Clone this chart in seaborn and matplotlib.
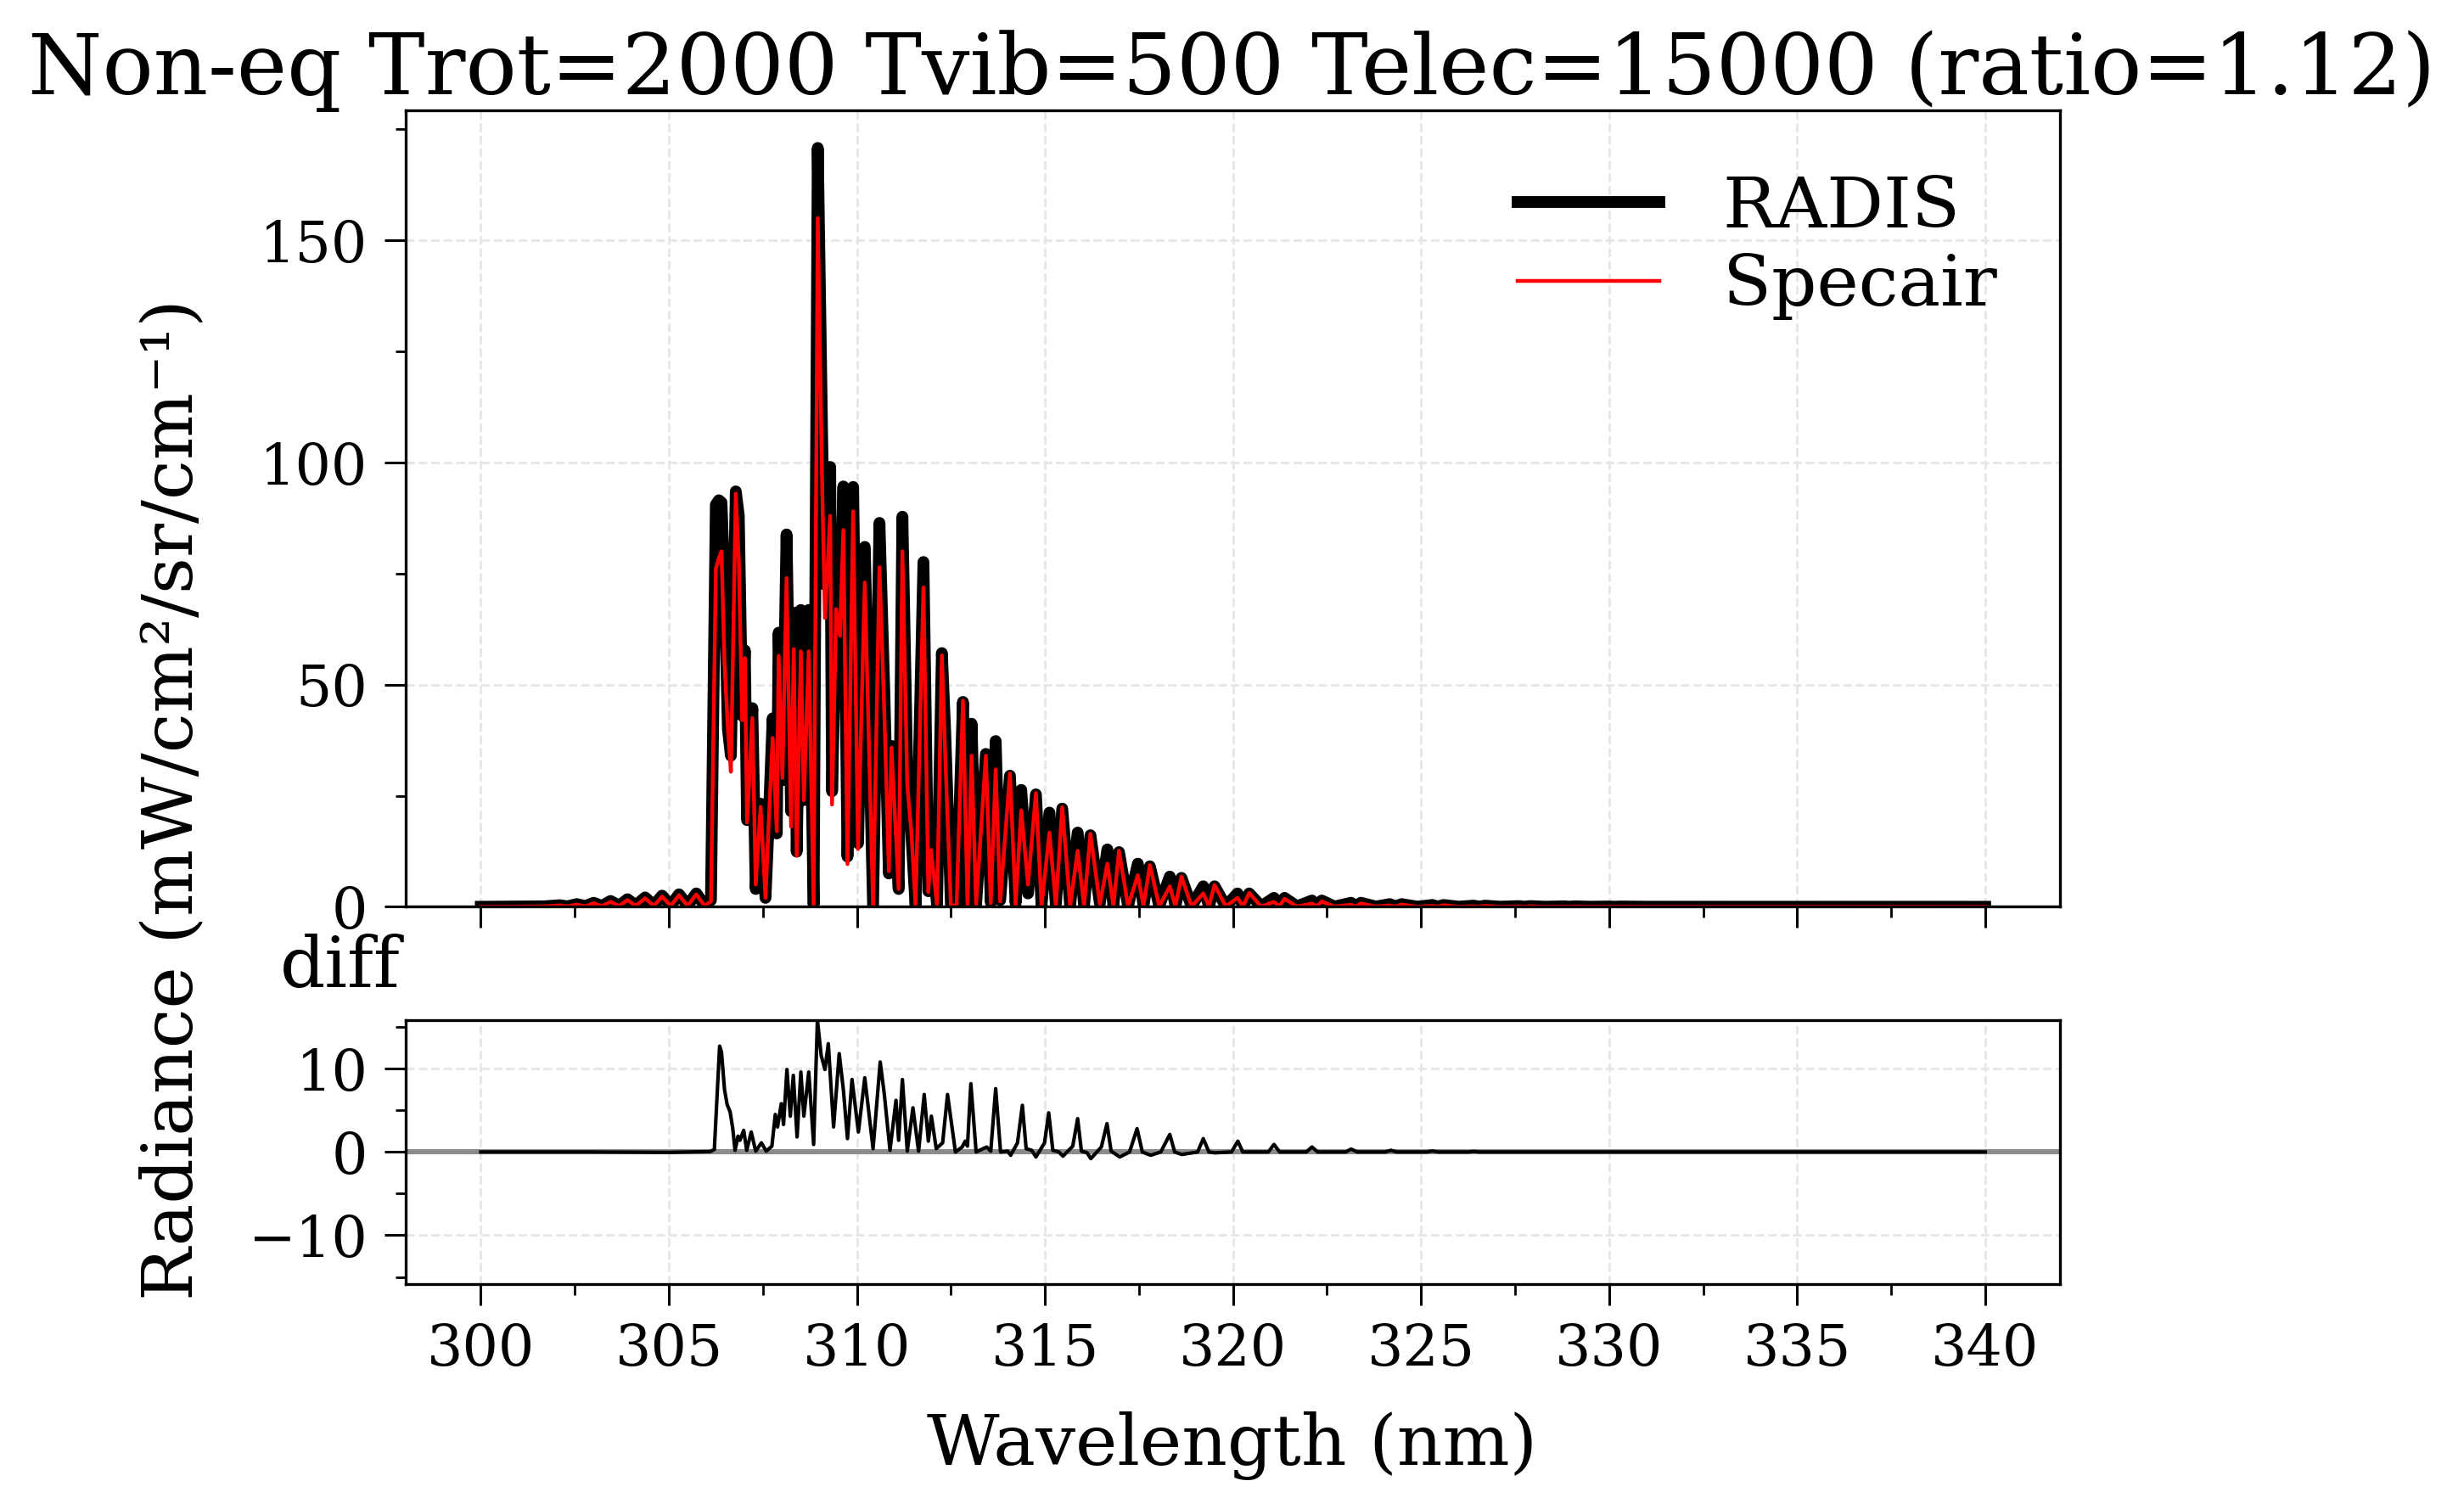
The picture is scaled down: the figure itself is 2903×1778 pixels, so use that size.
import numpy as np
import pandas as pd
import matplotlib
matplotlib.use('Agg')
import matplotlib.pyplot as plt
from matplotlib.ticker import AutoMinorLocator, MultipleLocator
import seaborn as sns

# spectre : longueur d'onde (nm), RADIS, Specair
wl = [300.0, 301.0, 301.7, 302.1, 302.3, 302.55, 302.78, 303.0, 303.22, 303.45,
      303.68, 303.9, 304.12, 304.37, 304.6, 304.82, 305.05, 305.27, 305.5, 305.73,
      305.95, 306.12, 306.25, 306.33, 306.40, 306.48, 306.57, 306.65, 306.78, 306.86,
      306.95, 307.02, 307.08, 307.22, 307.31, 307.44, 307.57, 307.65, 307.76, 307.87,
      307.92, 308.02, 308.13, 308.25, 308.32, 308.40, 308.51, 308.59, 308.72, 308.85,
      308.96, 309.08, 309.15, 309.29, 309.34, 309.45, 309.55, 309.64, 309.75, 309.90,
      310.03, 310.21, 310.43, 310.60, 310.73, 310.85, 310.92, 311.11, 311.21, 311.34,
      311.45, 311.56, 311.77, 311.90, 311.97, 312.13, 312.26, 312.35, 312.50, 312.65,
      312.82, 312.94, 313.05, 313.17, 313.43, 313.56, 313.69, 313.81, 314.07, 314.22,
      314.37, 314.55, 314.76, 314.91, 315.12, 315.29, 315.46, 315.67, 315.87, 316.04,
      316.21, 316.46, 316.66, 316.82, 316.97, 317.21, 317.47, 317.62, 317.79, 318.04,
      318.32, 318.47, 318.63, 318.90, 319.21, 319.36, 319.51, 319.81, 320.12, 320.27,
      320.43, 320.75, 321.09, 321.23, 321.37, 321.70, 322.10, 322.23, 322.36, 322.70,
      323.14, 323.27, 323.40, 323.80, 324.17, 324.32, 324.48, 324.90, 325.30, 325.45,
      325.60, 326.00, 326.40, 326.55, 326.70, 327.10, 327.60, 327.75, 327.90, 328.30,
      328.80, 328.95, 329.10, 329.50, 330.00, 330.15, 330.30, 331.00, 332.00, 334.00,
      336.00, 338.00, 340.00]
radis = [0.0, 0.05, 0.1, 0.35, 0.1, 0.6, 0.15, 0.9, 0.2, 1.3,
         0.25, 1.7, 0.3, 2.1, 0.3, 2.5, 0.3, 2.8, 0.3, 3.0,
         0.3, 1.5, 90.5, 91.5, 91.0, 72.0, 40.0, 34.0, 93.5, 88.0,
         43.0, 57.7, 19.5, 44.7, 4.0, 23.2, 2.0, 18.0, 42.4, 16.5,
         61.7, 28.5, 83.8, 21.5, 66.2, 12.4, 66.8, 24.0, 66.8, 0.5,
         170.8, 104.0, 72.5, 99.0, 26.0, 66.0, 66.0, 94.6, 11.3, 94.5,
         14.3, 81.0, 0.3, 86.4, 48.2, 7.5, 36.2, 4.0, 87.8, 30.0,
         16.0, 0.3, 77.6, 3.5, 16.4, 0.5, 57.1, 39.0, 0.5, 0.5,
         46.1, 0.5, 41.2, 0.5, 34.4, 1.0, 37.3, 1.5, 29.5, 0.8,
         26.3, 3.0, 25.3, 0.3, 21.2, 0.4, 22.1, 0.3, 16.7, 0.4,
         16.1, 0.8, 12.9, 0.3, 12.3, 0.2, 9.7, 0.3, 9.1, 0.2,
         6.8, 0.2, 6.5, 0.1, 4.6, 0.2, 4.6, 0.1, 3.0, 0.2,
         3.0, 0.1, 2.0, 0.2, 2.0, 0.1, 1.4, 0.15, 1.4, 0.05,
         0.9, 0.1, 0.9, 0.05, 0.6, 0.05, 0.6, 0.02, 0.4, 0.05,
         0.4, 0.02, 0.25, 0.03, 0.25, 0.02, 0.15, 0.02, 0.15, 0.01,
         0.1, 0.02, 0.1, 0.01, 0.06, 0.01, 0.06, 0.01, 0.01, 0.0,
         0.0, 0.0, 0.0]
specair = [0.0, 0.05, 0.1, 0.3, 0.1, 0.5, 0.1, 0.8, 0.15, 1.1,
           0.2, 1.5, 0.2, 1.9, 0.2, 2.3, 0.2, 2.6, 0.2, 2.8,
           0.2, 1.2, 76.0, 78.5, 80.0, 55.0, 40.0, 30.4, 93.0, 78.0,
           42.0, 56.0, 19.0, 42.5, 5.0, 22.5, 2.0, 18.0, 38.0, 17.0,
           56.5, 29.0, 74.0, 18.0, 58.0, 11.5, 57.5, 24.0, 57.5, 0.5,
           155.0, 93.5, 65.0, 88.0, 23.0, 67.0, 61.0, 84.8, 9.6, 89.0,
           13.0, 73.0, 0.3, 76.4, 43.6, 8.0, 35.8, 4.0, 80.0, 27.3,
           16.7, 0.3, 71.9, 3.3, 12.8, 0.5, 56.6, 33.7, 0.3, 0.3,
           46.4, 0.5, 34.0, 0.5, 34.0, 0.8, 30.9, 1.2, 30.0, 0.5,
           21.7, 5.0, 25.6, 0.2, 16.7, 0.3, 22.4, 0.2, 12.6, 0.3,
           16.4, 0.6, 9.7, 0.2, 12.6, 0.1, 7.1, 0.2, 9.4, 0.1,
           4.6, 0.1, 6.8, 0.1, 3.0, 0.1, 4.9, 0.1, 2.0, 0.1,
           3.1, 0.05, 1.1, 0.1, 1.8, 0.05, 0.7, 0.1, 1.2, 0.05,
           0.45, 0.05, 0.75, 0.05, 0.3, 0.05, 0.5, 0.02, 0.2, 0.05,
           0.35, 0.02, 0.12, 0.03, 0.2, 0.02, 0.08, 0.02, 0.12, 0.01,
           0.05, 0.02, 0.08, 0.01, 0.03, 0.01, 0.05, 0.01, 0.01, 0.0,
           0.0, 0.0, 0.0]

# panneau du bas : difference
diff_wl = [300.0, 303.0, 305.0, 306.1, 306.21, 306.35, 306.40, 306.48, 306.55, 306.63,
           306.70, 306.76, 306.84, 306.89, 306.99, 307.07, 307.19, 307.31, 307.46, 307.59,
           307.74, 307.83, 307.89, 307.99, 308.05, 308.14, 308.23, 308.31, 308.41, 308.51,
           308.59, 308.72, 308.85, 308.95, 309.05, 309.15, 309.24, 309.38, 309.53, 309.64,
           309.75, 309.87, 310.04, 310.21, 310.43, 310.62, 310.73, 310.88, 311.04, 311.11,
           311.21, 311.34, 311.49, 311.64, 311.79, 311.90, 311.98, 312.11, 312.28, 312.41,
           312.62, 312.80, 312.88, 312.94, 313.03, 313.17, 313.45, 313.56, 313.69, 313.82,
           314.01, 314.09, 314.27, 314.40, 314.50, 314.65, 314.76, 314.99, 315.10, 315.21,
           315.37, 315.48, 315.74, 315.87, 315.97, 316.12, 316.22, 316.50, 316.65, 316.76,
           316.99, 317.25, 317.45, 317.59, 317.81, 318.08, 318.32, 318.45, 318.64, 319.06,
           319.21, 319.36, 319.51, 319.96, 320.13, 320.26, 320.94, 321.09, 321.24, 321.95,
           322.10, 322.25, 323.00, 323.14, 323.30, 324.05, 324.20, 324.35, 325.15, 325.30,
           325.45, 326.25, 326.40, 326.55, 328.00, 332.00, 336.00, 340.00]
diff_val = [0.0, 0.0, -0.05, 0.05, 0.3, 12.7, 12.0, 7.5, 5.7, 4.8,
            2.8, 0.2, 1.9, 1.4, 2.6, 0.2, 2.4, 0.1, 1.1, 0.1,
            0.7, 4.5, 3.0, 5.8, 3.3, 9.9, 4.3, 9.2, 1.8, 9.6,
            4.3, 9.6, 0.9, 15.85, 11.6, 9.9, 13.0, 3.0, 11.8, 7.5,
            1.6, 8.7, 2.4, 8.9, 0.4, 10.8, 6.9, 0.2, 6.2, 1.4,
            8.7, 0.1, 5.3, 0.1, 6.9, 1.3, 4.3, 0.4, 1.1, 6.9,
            0.0, 0.6, 1.3, 0.7, 8.2, 0.0, 0.6, 0.1, 7.6, 0.0,
            0.1, -0.4, 1.1, 5.6, 0.4, 0.2, -0.6, 1.1, 4.7, 0.2,
            0.0, -0.5, 0.7, 4.0, 0.1, -0.1, -0.8, 0.6, 3.4, 0.1,
            -0.6, 0.0, 2.8, 0.0, -0.4, 0.0, 2.1, 0.0, -0.3, 0.0,
            1.6, 0.0, -0.1, 0.0, 1.3, 0.0, 0.0, 0.9, 0.0, 0.0,
            0.6, 0.0, 0.0, 0.35, 0.0, 0.0, 0.2, 0.0, 0.0, 0.12,
            0.0, 0.0, 0.07, 0.0, 0.0, 0.0, 0.0, 0.0]

df = pd.DataFrame({'wl': wl, 'RADIS': radis, 'Specair': specair})
dd = pd.DataFrame({'wl': diff_wl, 'diff': diff_val})

plt.rcParams['font.family'] = ['DejaVu Serif']
plt.rcParams['axes.linewidth'] = 1.2

fig = plt.figure(figsize=(14.515, 8.89), dpi=200)
ax1 = fig.add_axes([0.1646, 0.3991, 0.6716, 0.5280])
ax2 = fig.add_axes([0.1646, 0.1491, 0.6716, 0.1750], sharex=ax1)

sns.lineplot(data=df, x='wl', y='RADIS', ax=ax1, color='k', lw=5, label='RADIS')
sns.lineplot(data=df, x='wl', y='Specair', ax=ax1, color='r', lw=1.6, label='Specair')
ax1.set_ylim(bottom=0)
ax1.legend(loc='upper right', frameon=False, fontsize=30, handlelength=2.0,
           labelspacing=0.15, handletextpad=0.9)

ax2.axhline(0, color='grey', lw=2.2, alpha=0.9, zorder=1)
sns.lineplot(data=dd, x='wl', y='diff', ax=ax2, color='k', lw=1.5, zorder=2)
lim = np.max(np.abs(diff_val))
ax2.set_ylim(-lim, lim)

for ax in (ax1, ax2):
    ax.set_xlabel('')
    ax.set_ylabel('')
    ax.grid(True, which='major', ls='--', color='#e6e6e6', lw=1.0)
    ax.set_axisbelow(True)
    ax.xaxis.set_minor_locator(AutoMinorLocator(2))
    ax.yaxis.set_minor_locator(AutoMinorLocator(2))
    ax.tick_params(which='major', length=9, width=1.1, labelsize=24, pad=7, colors='k')
    ax.tick_params(which='minor', length=4.5, width=1.0)
ax2.xaxis.set_major_locator(MultipleLocator(5))
ax1.tick_params(axis='x', labelbottom=False)

fig.text(0.5, 1 - 111 / 1778, 'Non-eq Trot=2000 Tvib=500 Telec=15000 (ratio=1.12)',
         ha='center', va='baseline', fontsize=36)
fig.text(472 / 2903, 1 - 1163 / 1778, 'diff', ha='right', va='baseline', fontsize=30)
fig.text(0.5, 1 - 1726 / 1778, 'Wavelength (nm)', ha='center', va='baseline', fontsize=30)
fig.text(0.0702, 0.4704, 'Radiance (mW/cm²/sr/cm⁻¹)', rotation=90,
         ha='center', va='center', fontsize=30)

fig.savefig('out.png', dpi=200)
